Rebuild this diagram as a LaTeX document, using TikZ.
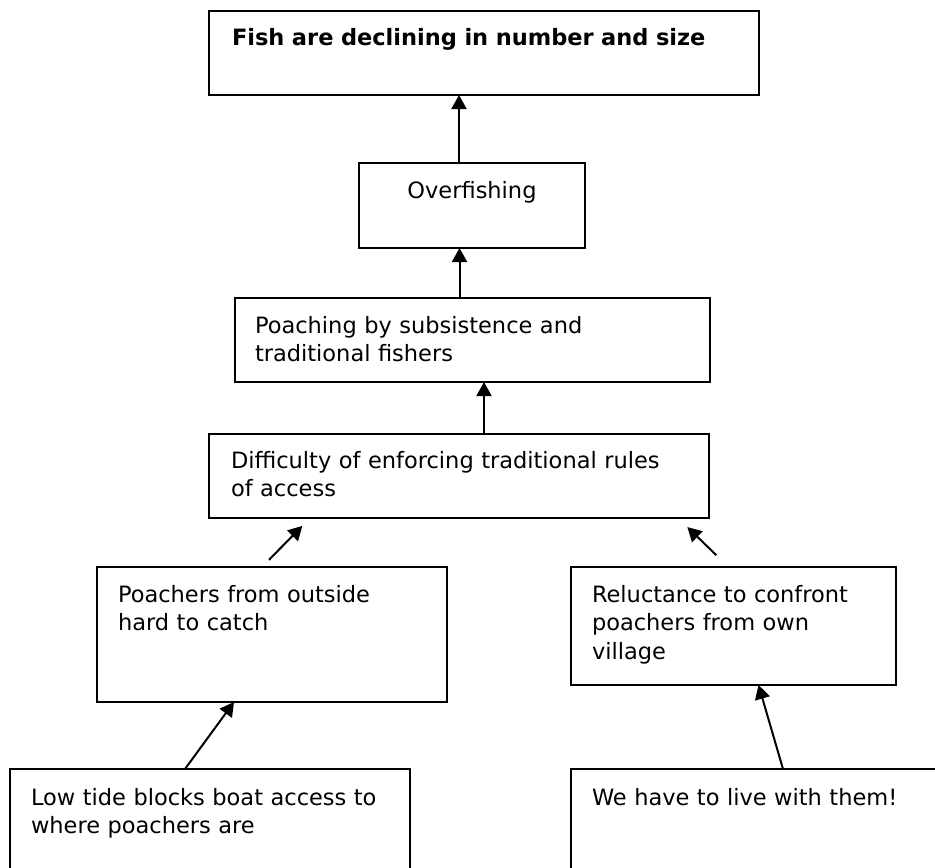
\documentclass[tikz,border=0pt]{standalone}
\usepackage{fontspec}
\setmainfont{DejaVu Sans}
\usetikzlibrary{arrows.meta}

\begin{document}
\begin{tikzpicture}[x=1pt,y=-1pt,>={Triangle[length=14pt,width=15pt]},
  font=\fontsize{22.5}{28.5}\selectfont,
  box/.style={draw,line width=2pt,anchor=north west,outer sep=0pt,inner ysep=0pt,inner xsep=21pt,align=left,text height=35pt},
  link/.style={->,line width=2pt}]
\useasboundingbox (0,0) rectangle (935,868);
\clip (0,0) rectangle (935,868);
% problem tree, effect at the top
\node[box,inner xsep=23pt,text width=504pt,text height=34pt,text depth=50pt] (decline) at (209,11) {\textbf{Fish are declining in number and size}};
\node[box,align=center,text width=184pt,text depth=50pt] (overfish) at (359,163) {Overfishing};
\node[box,inner xsep=20pt,text width=435pt,text depth=49pt] (poaching) at (235,298) {Poaching by subsistence and\\traditional fishers};
\node[box,inner xsep=22pt,text width=456pt,text height=34pt,text depth=50pt] (enforce) at (209,434) {Difficulty of enforcing traditional rules\\of access};
\node[box,text width=308pt,text depth=100pt] (outsiders) at (97,567) {Poachers from outside\\hard to catch};
\node[box,text width=283pt,text depth=83pt] (reluct) at (571,567) {Reluctance to confront\\poachers from own\\village};
\node[box,text height=36pt,text width=358pt,text depth=130pt] (tide) at (10,769) {Low tide blocks boat access to\\where poachers are};
\node[box,text height=36pt,text width=358pt,text depth=130pt] (live) at (571,769) {We have to live with them!};
% causes point upwards
\draw[link] ([xshift=-13pt]overfish.north) -- ([xshift=-13pt]overfish.north |- decline.south);
\draw[link] ([xshift=-13pt]poaching.north) -- ([xshift=-13pt]poaching.north |- overfish.south);
\draw[link] ([xshift=25pt]enforce.north) -- ([xshift=25pt]enforce.north |- poaching.south);
\draw[link,shorten <=10pt,shorten >=11pt] ([xshift=-10pt]outsiders.north) -- ([xshift=-149pt]enforce.south);
\draw[link,shorten <=17pt,shorten >=13pt] ([xshift=-5pt]reluct.north) -- ([xshift=219pt]enforce.south);
\draw[link] ([xshift=-25pt]tide.north) -- ([xshift=-38pt]outsiders.south);
\draw[link] ([xshift=12pt]live.north) -- ([xshift=25pt]reluct.south);
\end{tikzpicture}
\end{document}
